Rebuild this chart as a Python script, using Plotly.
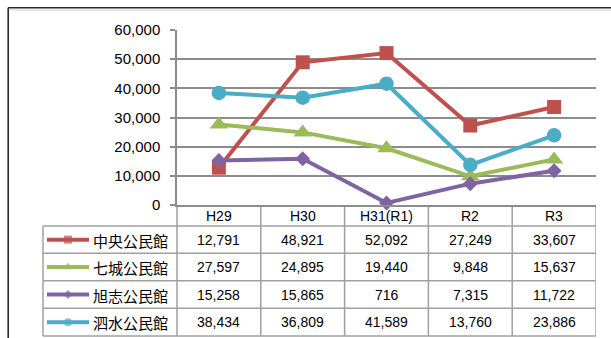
import plotly.graph_objects as go

# Fiscal years and visitor counts per community hall
years = ["H29", "H30", "H31(R1)", "R2", "R3"]
names = ["中央公民館", "七城公民館", "旭志公民館", "泗水公民館"]
chuo = [12791, 48921, 52092, 27249, 33607]
shichijo = [27597, 24895, 19440, 9848, 15637]
kyokushi = [15258, 15865, 716, 7315, 11722]
shisui = [38434, 36809, 41589, 13760, 23886]
series = [chuo, shichijo, kyokushi, shisui]

colors = ["#C0504D", "#9BBB59", "#8064A2", "#4BACC6"]
symbols = ["square", "triangle-up", "diamond", "circle"]
sizes = [14, 16, 11.5, 14.5]
key_sizes = [8, 9, 7, 8]

W, H = 611, 338


def px(x):
    return x / W


def py(y):
    return 1 - y / H


PLOT_L, PLOT_R, PLOT_T, PLOT_B = 177, 596, 30, 205
TABLE_L = 43
ROW_EDGES = [205, 226, 253.3, 280.7, 308.3, 336]
GRID = "#8c8c8c"
BORDER = "#a0a0a0"
NUM_FONT = "Liberation Sans, Arial, sans-serif"
JP_FONT = "Noto Sans CJK JP, sans-serif"

fig = go.Figure()

for name, vals, c, s, sz in zip(names, series, colors, symbols, sizes):
    fig.add_trace(go.Scatter(
        x=list(range(len(years))), y=vals, name=name, mode="lines+markers",
        line=dict(color=c, width=4),
        marker=dict(symbol=s, size=sz, color=c, line=dict(width=0)),
        xaxis="x", yaxis="y", showlegend=False, cliponaxis=False,
    ))

shapes = []
# table grid: horizontal rules
for yy in ROW_EDGES[1:]:
    shapes.append(dict(type="line", xref="paper", yref="paper",
                       x0=px(TABLE_L), x1=px(PLOT_R), y0=py(yy), y1=py(yy)))
# table grid: vertical rules
shapes.append(dict(type="line", xref="paper", yref="paper",
                   x0=px(TABLE_L), x1=px(TABLE_L), y0=py(ROW_EDGES[1]), y1=py(ROW_EDGES[-1])))
shapes.append(dict(type="line", xref="paper", yref="paper",
                   x0=px(PLOT_L), x1=px(PLOT_L), y0=py(PLOT_B), y1=py(ROW_EDGES[-1])))
for k in range(len(years)):
    shapes.append(dict(type="line", xref="x", yref="paper",
                       x0=k + 0.5, x1=k + 0.5, y0=py(PLOT_B), y1=py(ROW_EDGES[-1])))
for sh in shapes:
    sh["line"] = dict(color=BORDER, width=1.5)
    sh["layer"] = "below"

# outer chart frame with a faint inner shadow
shapes.append(dict(type="line", xref="paper", yref="paper", x0=px(10), x1=1,
                   y0=py(10), y1=py(10), line=dict(color="#d4d4d4", width=1)))
shapes.append(dict(type="line", xref="paper", yref="paper", x0=px(8), x1=1,
                   y0=py(7.8), y1=py(7.8), line=dict(color="#2a2a2a", width=1.6)))
shapes.append(dict(type="line", xref="paper", yref="paper", x0=px(8.2), x1=px(8.2),
                   y0=py(7.8), y1=0, line=dict(color="#2a2a2a", width=1.6)))

annotations = []
for r, (name, vals, c) in enumerate(zip(names, series, colors)):
    ymid = (ROW_EDGES[r + 1] + ROW_EDGES[r + 2]) / 2
    annotations.append(dict(
        text=name, xref="paper", yref="paper", x=px(91), y=py(ymid + 0.5),
        xanchor="left", yanchor="middle", showarrow=False,
        font=dict(family=JP_FONT, size=15, color="#000"),
    ))
    for k, v in enumerate(vals):
        annotations.append(dict(
            text=f"{v:,}", xref="x", yref="paper", x=k, y=py(ymid),
            xanchor="center", yanchor="middle", showarrow=False,
            font=dict(family=NUM_FONT, size=14, color="#000"),
        ))
    # legend key inside the table's first column
    fig.add_trace(go.Scatter(
        x=[47, 68, 89], y=[ymid, ymid, ymid], mode="lines+markers",
        line=dict(color=c, width=4),
        marker=dict(symbol=symbols[r], size=[0, key_sizes[r], 0], color=c,
                    line=dict(width=0)),
        xaxis="x2", yaxis="y2", showlegend=False, hoverinfo="skip",
    ))

hdr_mid = (ROW_EDGES[0] + ROW_EDGES[1]) / 2
for k, yr in enumerate(years):
    annotations.append(dict(
        text=yr, xref="x", yref="paper", x=k, y=py(hdr_mid + 0.5),
        xanchor="center", yanchor="middle", showarrow=False,
        font=dict(family=NUM_FONT, size=14, color="#000"),
    ))

fig.update_layout(
    width=W, height=H, autosize=False,
    margin=dict(l=0, r=0, t=0, b=0, pad=0, autoexpand=False),
    paper_bgcolor="white", plot_bgcolor="rgba(0,0,0,0)",
    xaxis=dict(
        domain=[px(PLOT_L), px(PLOT_R)], range=[-0.5, len(years) - 0.5],
        showticklabels=False, ticks="", showgrid=False, zeroline=False,
        showline=True, linecolor=GRID, linewidth=1.5, anchor="y", fixedrange=True,
        automargin=False,
    ),
    yaxis=dict(
        domain=[py(PLOT_B), py(PLOT_T)], range=[0, 60000], dtick=10000,
        tickformat=",", showgrid=True, gridcolor=GRID, gridwidth=1.5,
        zeroline=False, showline=True, linecolor=GRID, linewidth=1.5,
        ticks="outside", ticklen=5, tickcolor=GRID, tickwidth=1.5,
        ticklabelstandoff=7,
        tickfont=dict(family=NUM_FONT, size=15, color="#000"), anchor="x",
        fixedrange=True, automargin=False,
    ),
    xaxis2=dict(domain=[0, 1], range=[0, W], visible=False, anchor="y2",
                fixedrange=True, automargin=False),
    yaxis2=dict(domain=[0, 1], range=[H, 0], visible=False, anchor="x2",
                fixedrange=True, automargin=False),
    shapes=shapes,
    annotations=annotations,
)

fig.write_html("out.html")
